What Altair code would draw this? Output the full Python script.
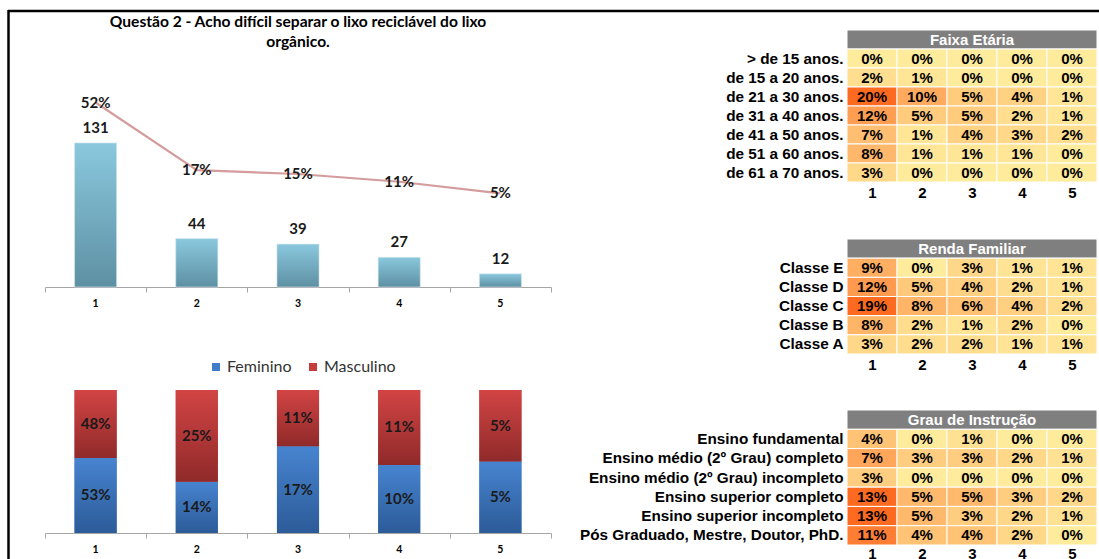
import altair as alt
import pandas as pd

# ---------------- data ----------------
cats = ["1", "2", "3", "4", "5"]
nums = [1, 2, 3, 4, 5]
counts = [131, 44, 39, 27, 12]
pcts = [0.52, 0.17, 0.15, 0.11, 0.05]
fem = [0.53, 0.14, 0.17, 0.10, 0.05]
masc = [0.48, 0.25, 0.11, 0.11, 0.05]
sexes = ["Feminino", "Masculino"]

title_lines = ["Questão 2 - Acho difícil separar o lixo reciclável do lixo", "orgânico."]

faixa_title = "Faixa Etária"
faixa_rows = ["> de 15 anos.", "de 15 a 20 anos.", "de 21 a 30 anos.", "de 31 a 40 anos.",
              "de 41 a 50 anos.", "de 51 a 60 anos.", "de 61 a 70 anos."]
faixa_vals = [[0, 0, 0, 0, 0], [2, 1, 0, 0, 0], [20, 10, 5, 4, 1], [12, 5, 5, 2, 1],
              [7, 1, 4, 3, 2], [8, 1, 1, 1, 0], [3, 0, 0, 0, 0]]

renda_title = "Renda Familiar"
renda_rows = ["Classe E", "Classe D", "Classe C", "Classe B", "Classe A"]
renda_vals = [[9, 0, 3, 1, 1], [12, 5, 4, 2, 1], [19, 8, 6, 4, 2], [8, 2, 1, 2, 0], [3, 2, 2, 1, 1]]

grau_title = "Grau de Instrução"
grau_rows = ["Ensino fundamental", "Ensino médio (2º Grau) completo",
             "Ensino médio (2º Grau) incompleto", "Ensino superior completo",
             "Ensino superior incompleto", "Pós Graduado, Mestre, Doutor, PhD."]
grau_vals = [[4, 0, 1, 0, 0], [7, 3, 3, 2, 1], [3, 0, 0, 0, 0], [13, 5, 5, 3, 2],
             [13, 5, 3, 2, 1], [11, 4, 4, 2, 0]]

# ---------------- styles ----------------
W, H = 1099, 559
LFONT = "Lato"
RFONT = "Liberation Sans"
DARK = "#1A1A1A"
AXGRAY = "#A6A6A6"


def grad(top, bottom):
    return alt.LinearGradient(
        gradient="linear",
        stops=[alt.GradientStop(color=top, offset=0), alt.GradientStop(color=bottom, offset=1)],
        x1=0, x2=0, y1=0, y2=1,
    )


top_df = pd.DataFrame({"cat": cats, "num": nums, "n": counts, "pct": pcts})
sex_df = pd.DataFrame({
    "cat": cats * 2,
    "num": nums * 2,
    "sexo": [sexes[0]] * 5 + [sexes[1]] * 5,
    "v": fem + masc,
})

X_PLOT = [45, 551]
XB = lambda: alt.Scale(domain=cats, range=X_PLOT, paddingInner=0.584, paddingOuter=0.292)
XL = lambda: alt.Scale(domain=[0.5, 5.5], range=X_PLOT, nice=False, zero=False)

AX1_Y = 287
AX2_Y = 533


def band_axis(ax_y):
    return alt.Axis(orient="bottom", offset=ax_y - H, ticks=False, tickSize=0, domain=False,
                    labelAngle=0, labelFont=LFONT, labelFontWeight="bold", labelFontSize=10.5,
                    labelColor="#000000", labelPadding=11, title=None, grid=False)


def tick_axis(ax_y):
    return alt.Axis(orient="bottom", offset=ax_y - H, values=[0.5, 1.5, 2.5, 3.5, 4.5, 5.5],
                    labels=False, tickSize=5, tickColor=AXGRAY, domainColor=AXGRAY,
                    grid=False, title=None)


YB = alt.Scale(domain=[0, 180], range=[AX1_Y, 89], nice=False, zero=False)
YL = alt.Scale(domain=[0, 0.59], range=[203, 89], nice=False, zero=False)

bars = alt.Chart(top_df).mark_bar(
    color=grad("#8AC8DE", "#5E90A3"), stroke="#D8E8EE", strokeWidth=0.6
).encode(
    x=alt.X("cat:N", scale=XB(), axis=band_axis(AX1_Y)),
    y=alt.Y("n:Q", scale=YB, axis=None),
)

line = alt.Chart(top_df).mark_line(color="#D49C9C", strokeWidth=2.2).encode(
    x=alt.X("num:Q", scale=XL(), axis=tick_axis(AX1_Y)),
    y=alt.Y("pct:Q", scale=YL, axis=None),
)

count_lbl = alt.Chart(top_df).mark_text(
    font=LFONT, fontWeight="bold", fontSize=15, color=DARK, baseline="middle", dy=-15
).encode(
    x=alt.X("cat:N", scale=XB(), axis=None),
    y=alt.Y("n:Q", scale=YB, axis=None),
    text=alt.Text("n:Q"),
)

pct_lbl = alt.Chart(top_df).mark_text(
    font=LFONT, fontWeight="bold", fontSize=15, color=DARK, baseline="middle"
).encode(
    x=alt.X("num:Q", scale=XL(), axis=None),
    y=alt.Y("pct:Q", scale=YL, axis=None),
    text=alt.Text("pct:Q", format=".0%"),
)

title = alt.Chart(pd.DataFrame({"k": [0]})).mark_text(
    text=title_lines, font=LFONT, fontWeight="bold", fontSize=15.6, color="#000000",
    align="center", baseline="top", lineHeight=20
).encode(x=alt.value(298), y=alt.value(15))

# ---------------- stacked bars ----------------
YS = alt.Scale(domain=[0, 1], range=[AX2_Y, 390], nice=False, zero=False)


def stacked(base):
    return base.transform_stack(
        stack="v", groupby=["cat"], sort=[alt.SortField("sexo", "ascending")],
        as_=["y0", "y1"], offset="normalize"
    ).transform_calculate(ym="(datum.y0 + datum.y1) / 2")


solid = stacked(alt.Chart(sex_df)).mark_bar().encode(
    x=alt.X("cat:N", scale=XB(), axis=band_axis(AX2_Y)),
    y=alt.Y("y0:Q", scale=YS, axis=None),
    y2=alt.Y2("y1:Q"),
    color=alt.Color("sexo:N",
                    scale=alt.Scale(domain=sexes, range=["#3E7CC9", "#C43C3C"]),
                    legend=alt.Legend(orient="none", legendX=208, legendY=359,
                                      direction="horizontal", title=None, symbolType="square",
                                      symbolSize=64, symbolStrokeWidth=0, labelFont=LFONT,
                                      labelFontSize=16, labelColor="#333333", labelOffset=3,
                                      columnPadding=13, padding=0)),
)

fem_bar = stacked(alt.Chart(sex_df)).transform_filter("datum.sexo == 'Feminino'").mark_bar(
    color=grad("#4784D0", "#2C5B98")
).encode(
    x=alt.X("cat:N", scale=XB(), axis=None),
    y=alt.Y("y0:Q", scale=YS, axis=None),
    y2=alt.Y2("y1:Q"),
)

masc_bar = stacked(alt.Chart(sex_df)).transform_filter("datum.sexo == 'Masculino'").mark_bar(
    color=grad("#D24444", "#902A2A")
).encode(
    x=alt.X("cat:N", scale=XB(), axis=None),
    y=alt.Y("y0:Q", scale=YS, axis=None),
    y2=alt.Y2("y1:Q"),
)

sex_lbl = stacked(alt.Chart(sex_df)).mark_text(
    font=LFONT, fontWeight="bold", fontSize=15, color=DARK, baseline="middle"
).encode(
    x=alt.X("num:Q", scale=XL(), axis=tick_axis(AX2_Y)),
    y=alt.Y("ym:Q", scale=YS, axis=None),
    text=alt.Text("v:Q", format=".0%"),
)

# ---------------- heat tables ----------------
HX_RANGE = [847, 1097]


def heat(title_txt, rows, vals, top, bottom, lab_pad):
    recs = [{"row": title_txt, "x0": 0.5, "x1": 5.5, "v": 0, "lbl": title_txt, "hdr": 1}]
    for r, vs in zip(rows, vals):
        for c, v in enumerate(vs, start=1):
            recs.append({"row": r, "x0": c - 0.5, "x1": c + 0.5, "v": v, "lbl": f"{v}%", "hdr": 0})
    df = pd.DataFrame(recs)
    vmax = max(max(r) for r in vals)

    def hx():
        return alt.Scale(domain=[0.5, 5.5], range=HX_RANGE, nice=False, zero=False)

    def hy():
        return alt.Scale(domain=[title_txt] + rows, range=[top, bottom],
                         paddingInner=0, paddingOuter=0)

    rect = alt.Chart(df).mark_rect(stroke="white", strokeWidth=1).encode(
        x=alt.X("x0:Q", scale=hx(),
                axis=alt.Axis(orient="bottom", offset=bottom - H, values=[1, 2, 3, 4, 5],
                              format="d", ticks=False, tickSize=0, domain=False, grid=False,
                              labelFont=RFONT, labelFontWeight="bold", labelFontSize=15,
                              labelColor="#000000", labelPadding=lab_pad, labelFlush=False,
                              title=None)),
        x2=alt.X2("x1"),
        y=alt.Y("row:N", scale=hy(),
                axis=alt.Axis(orient="left", offset=-HX_RANGE[0], ticks=False, tickSize=0,
                              domain=False, grid=False, labelPadding=4, labelLimit=500,
                              labelFont=RFONT, labelFontWeight="bold", labelFontSize=15.3,
                              labelColor="#000000", title=None,
                              labelExpr=f"datum.value == '{title_txt}' ? '' : datum.label")),
        color=alt.condition("datum.hdr == 1", alt.value("#7F7F7F"),
                            alt.Color("v:Q", scale=alt.Scale(domain=[0, vmax],
                                                             range=["#FFEB9C", "#FF6A21"],
                                                             interpolate="rgb"),
                                      legend=None)),
    )
    txt = alt.Chart(df).transform_calculate(xc="(datum.x0 + datum.x1) / 2").mark_text(
        font=RFONT, fontWeight="bold", fontSize=15, baseline="middle"
    ).encode(
        x=alt.X("xc:Q", scale=hx(), axis=None),
        y=alt.Y("row:N", scale=hy(), axis=None),
        text=alt.Text("lbl:N"),
        color=alt.condition("datum.hdr == 1", alt.value("#FFFFFF"), alt.value("#000000")),
    )
    return [rect, txt]


heat_layers = (heat(faixa_title, faixa_rows, faixa_vals, 30, 182, 3)
               + heat(renda_title, renda_rows, renda_vals, 239, 354, 3)
               + heat(grau_title, grau_rows, grau_vals, 410, 545, 1))

# ---------------- frame ----------------
one = pd.DataFrame({"k": [0]})
frame_top = alt.Chart(one).mark_rule(color="#000000", strokeWidth=2.5).encode(
    x=alt.value(8), x2=alt.value(W), y=alt.value(11))
frame_left = alt.Chart(one).mark_rule(color="#000000", strokeWidth=2.5).encode(
    x=alt.value(8.5), y=alt.value(10), y2=alt.value(H))

chart = alt.layer(
    frame_top, frame_left, title,
    bars, line, count_lbl, pct_lbl,
    solid, fem_bar, masc_bar, sex_lbl,
    *heat_layers,
).resolve_scale(
    x="independent", y="independent", color="independent"
).properties(
    width=W, height=H, padding=0,
    autosize=alt.AutoSizeParams(type="none"),
    background="white",
).configure_view(stroke=None)

chart.save("out.html", embed_options={"renderer": "svg", "actions": False})
